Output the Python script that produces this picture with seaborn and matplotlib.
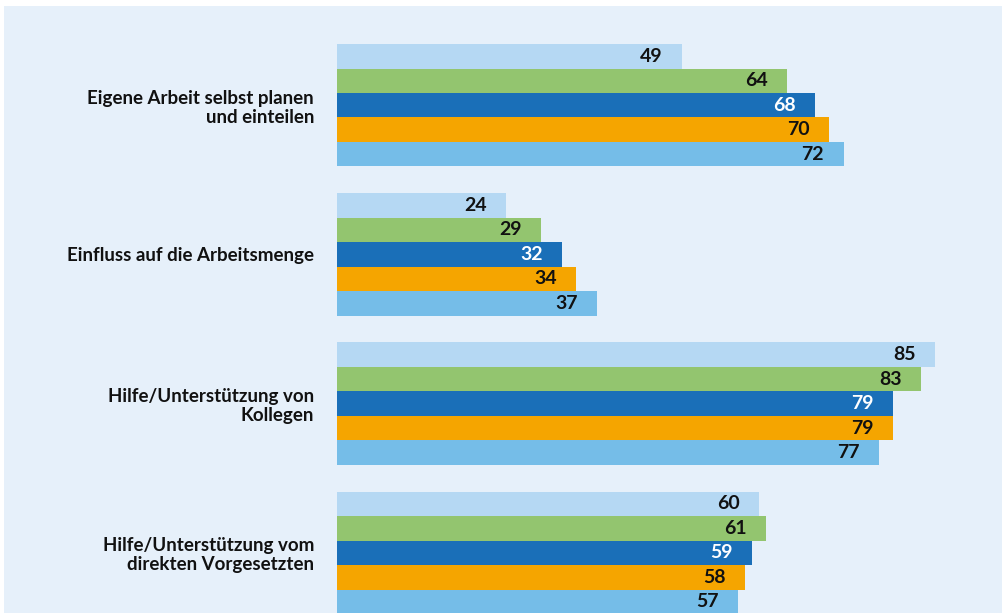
import matplotlib
matplotlib.use("Agg")
import matplotlib.pyplot as plt
import seaborn as sns
import pandas as pd
from matplotlib.patches import Rectangle

categories = [
    "Eigene Arbeit selbst planen\nund einteilen",
    "Einfluss auf die Arbeitsmenge",
    "Hilfe/Unterstützung von\nKollegen",
    "Hilfe/Unterstützung vom\ndirekten Vorgesetzten",
]
series = ["Gruppe 1", "Gruppe 2", "Gruppe 3", "Gruppe 4", "Gruppe 5"]
values_s1 = [49, 24, 85, 60]
values_s2 = [64, 29, 83, 61]
values_s3 = [68, 32, 79, 59]
values_s4 = [70, 34, 79, 58]
values_s5 = [72, 37, 77, 57]
colors = ["#b5d8f3", "#93c56f", "#1a6fb8", "#f5a500", "#75bde8"]
text_colors = ["#111111", "#111111", "#ffffff", "#111111", "#111111"]

rows = []
for s, vals in zip(series, [values_s1, values_s2, values_s3, values_s4, values_s5]):
    for c, v in zip(categories, vals):
        rows.append({"Kategorie": c, "Reihe": s, "Wert": v})
df = pd.DataFrame(rows)

sns.set_theme(style="white")
plt.rcParams["font.family"] = ["Lato", "DejaVu Sans"]

W, H = 1002, 613
fig = plt.figure(figsize=(W / 100, H / 100), dpi=100, facecolor="white")
bg = Rectangle((4 / W, 0), 1 - 4 / W, 1 - 6 / H, transform=fig.transFigure,
               facecolor="#e6f0fa", edgecolor="none", zorder=-10)
fig.add_artist(bg)

ax = fig.add_axes([337 / W, 0, 1 - 337 / W, 1 - 6 / H])
ax.set_facecolor("none")
sns.barplot(data=df, y="Kategorie", x="Wert", hue="Reihe", order=categories,
            hue_order=series, palette=colors, orient="h", width=0.82,
            saturation=1, legend=False, ax=ax, linewidth=0)

px_per_unit = 7.035
ax.set_xlim(0, (W - 337) / px_per_unit)
ax.set_ylim(3.403, -0.665)

for cont, tc in zip(ax.containers, text_colors):
    texts = ax.bar_label(cont, labels=[f"{int(v)}" for v in cont.datavalues], padding=-14,
                         color=tc, fontsize=14, fontweight="bold")
    for t in texts:
        t.set_ha("right")

for sp in ax.spines.values():
    sp.set_visible(False)
ax.set_xticks([])
ax.set_xlabel("")
ax.set_ylabel("")
ax.tick_params(axis="y", length=0, pad=16.5)
for lab in ax.get_yticklabels():
    lab.set_fontweight("bold")
    lab.set_fontsize(13.5)
    lab.set_color("#111111")
    lab.set_linespacing(1.15)

fig.savefig("out.png", dpi=100, facecolor="white")
